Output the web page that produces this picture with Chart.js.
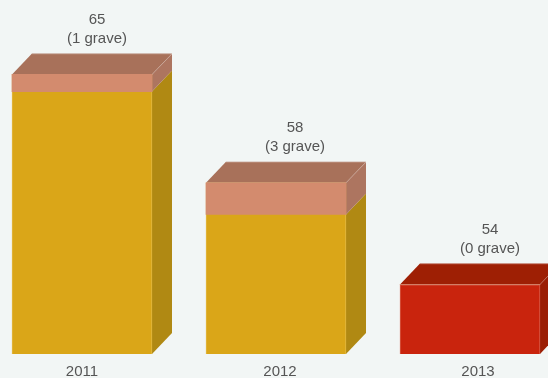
<!DOCTYPE html>
<html>
<head>
<meta charset="utf-8">
<style>
  html, body { margin: 0; padding: 0; background: #f2f6f5; overflow: hidden; }
  canvas { display: block; }
</style>
<script src="https://cdn.jsdelivr.net/npm/chart.js@4"></script>
</head>
<body>
<canvas id="accidents" width="548" height="378"></canvas>
<script>
const years = ['2011', '2012', '2013'];
const totals = [65, 58, 54];
const graves = [1, 3, 0];

const frontColors = ['#daa618', '#daa618', '#c9240d'];
const frontEdges = ['#e3b945', '#e3b945', '#d8604c'];
const sideColors = ['#b08913', '#b08913', '#9b1e05'];
const graveFront = '#d38b6e';
const graveTop = '#a8715a';
const graveSide = '#ad7560';
const plainTop = '#9e1f04';

const depthX = 20;
const depthY = 21;
const textColor = '#555555';
const textFont = '15px "Liberation Sans", Arial, sans-serif';

// compressed axis: the gaps between low values are stretched out
class PowerScale extends Chart.LinearScale {
  static id = 'power';
  static defaults = Chart.LinearScale.defaults;

  getPixelForValue(value) {
    const ratio = Math.max(value - this.min, 0) / (this.max - this.min);
    return this.getPixelForDecimal(Math.pow(ratio, 0.56));
  }
}
Chart.register(PowerScale);

function face(ctx, color, points) {
  ctx.fillStyle = color;
  ctx.beginPath();
  points.forEach(([x, y], i) => (i ? ctx.lineTo(x, y) : ctx.moveTo(x, y)));
  ctx.closePath();
  ctx.fill();
}

// hang the grave band from the top of each total bar
const graveBand = {
  id: 'graveBand',
  afterDatasetsUpdate(chart) {
    const bars = chart.getDatasetMeta(0).data;
    const scale = chart.scales.yGrave;
    chart.getDatasetMeta(1).data.forEach((band, i) => {
      const thickness = scale.getPixelForValue(0) - scale.getPixelForValue(graves[i]);
      band.y = bars[i].y;
      band.base = bars[i].y + thickness;
      band.height = thickness;
    });
  }
};

// top and side faces behind the front rectangles
const boxFaces = {
  id: 'boxFaces',
  beforeDatasetsDraw(chart) {
    const { ctx } = chart;
    const bands = chart.getDatasetMeta(1).data;
    chart.getDatasetMeta(0).data.forEach((bar, i) => {
      const left = bar.x - bar.width / 2;
      const right = bar.x + bar.width / 2;
      const top = bar.y;
      const split = bands[i].base;
      const bottom = bar.base;
      face(ctx, graves[i] ? graveTop : plainTop, [
        [left, top], [left + depthX, top - depthY],
        [right + depthX, top - depthY], [right, top]
      ]);
      face(ctx, sideColors[i], [
        [right, split], [right + depthX, split - depthY],
        [right + depthX, bottom - depthY], [right, bottom]
      ]);
      if (graves[i]) {
        face(ctx, graveSide, [
          [right, top], [right + depthX, top - depthY],
          [right + depthX, split - depthY], [right, split]
        ]);
      }
      // thin highlight along the upper edges
      ctx.strokeStyle = 'rgba(255,255,255,0.18)';
      ctx.lineWidth = 1;
      ctx.beginPath();
      ctx.moveTo(left + depthX, top - depthY + 0.5);
      ctx.lineTo(right + depthX, top - depthY + 0.5);
      ctx.lineTo(right, top);
      ctx.stroke();
    });
  },
  afterDatasetsDraw(chart) {
    const { ctx } = chart;
    ctx.save();
    ctx.font = textFont;
    ctx.fillStyle = textColor;
    ctx.textAlign = 'center';
    ctx.textBaseline = 'middle';
    chart.getDatasetMeta(0).data.forEach((bar, i) => {
      const labelX = bar.x + Math.min(15 + 4 * i, 20);
      const labelY = bar.y - depthY;
      ctx.fillText(String(totals[i]), labelX, labelY - 34);
      ctx.fillText('(' + graves[i] + ' grave)', labelX, labelY - 14.5);
      ctx.fillText(years[i], bar.x + 4 * i, bar.base + 18);
    });
    ctx.restore();
  }
};

new Chart(document.getElementById('accidents'), {
  type: 'bar',
  data: {
    labels: years,
    datasets: [
      {
        label: 'Total',
        data: totals,
        backgroundColor: frontColors,
        borderColor: frontEdges,
        borderWidth: 1,
        yAxisID: 'y',
        clip: false,
        order: 2
      },
      {
        label: 'Grave',
        data: graves,
        backgroundColor: graveFront,
        borderWidth: 0,
        yAxisID: 'yGrave',
        clip: false,
        order: 1
      }
    ]
  },
  options: {
    responsive: false,
    animation: false,
    grouped: false,
    barThickness: 140,
    layout: { padding: { left: 82, right: 78, top: 12, bottom: 24 } },
    plugins: {
      legend: { display: false },
      title: { display: false },
      tooltip: { enabled: false }
    },
    scales: {
      x: { display: false, offset: false },
      y: { type: 'power', display: false, min: 53, max: 70.2 },
      yGrave: { type: 'power', display: false, min: 0, max: 210 }
    }
  },
  plugins: [graveBand, boxFaces]
});
</script>
</body>
</html>
